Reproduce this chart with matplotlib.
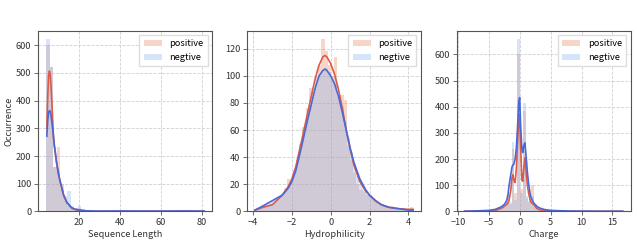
import numpy as np
import matplotlib
matplotlib.use("Agg")
import matplotlib.pyplot as plt
from matplotlib.patches import Patch

plt.rcParams['font.family'] = ['Noto Sans CJK SC', 'DejaVu Sans']
plt.rcParams['font.size'] = 6.6
plt.rcParams['axes.unicode_minus'] = True

# ---- data ----
series_names = ['positive', 'negtive']

# Sequence Length: histogram (bins of ~1.7 from 4 to 81) and density curves
len_edges = np.linspace(4.0, 81.0, 46)
len_pos = [600, 520, 160, 232, 100, 55, 20, 15, 14, 12, 8, 5, 3, 2, 1, 1, 1, 0, 1, 0,
           0, 1, 0, 0, 1, 0, 0, 0, 1, 0, 0, 0, 0, 1, 0, 0, 0, 1, 0, 0, 0, 1, 0, 0, 1]
len_neg = [622, 522, 160, 150, 80, 40, 72, 20, 14, 20, 6, 4, 3, 2, 2, 1, 1, 1, 0, 1,
           1, 0, 1, 0, 0, 1, 0, 1, 0, 0, 0, 1, 0, 0, 1, 0, 0, 0, 1, 0, 0, 1, 0, 0, 1]
len_curve_x = [4.35, 4.8, 5.2, 5.6, 6.0, 6.4, 6.8, 7.2, 7.6, 8.0, 8.4, 9.0, 10.0, 10.9,
               12.5, 14.1, 16.5, 18, 20, 23, 26, 30, 40, 50, 60, 70, 81]
len_curve_pos = [300, 420, 490, 507, 495, 450, 395, 330, 265, 235, 215, 180, 135, 105,
                 58, 31, 12, 7, 4, 2, 1, 0.5, 0.8, 0.8, 0.8, 1.2, 0.8]
len_curve_neg = [272, 330, 358, 364, 362, 345, 320, 295, 270, 240, 218, 182, 137, 107,
                 60, 33, 13, 8, 5, 2.5, 1.5, 1, 1.5, 1, 1, 1.5, 1]

# Hydrophilicity
hyd_edges = np.linspace(-3.9, 4.25, 51)
hyd_pos = [1, 2, 3, 3, 4, 5, 7, 9, 12, 17, 24, 22, 30, 38, 50, 62, 76, 91, 88, 100,
           108, 127, 118, 108, 100, 114, 85, 86, 82, 48, 38, 28, 20, 16, 14, 12, 12, 10, 7, 6,
           4, 3, 3, 4, 2, 2, 1, 1, 2, 3]
hyd_neg = [1, 2, 4, 5, 6, 8, 9, 10, 12, 15, 18, 21, 27, 36, 46, 57, 70, 78, 86, 94,
           100, 104, 106, 103, 98, 94, 86, 78, 66, 54, 44, 35, 26, 20, 16, 13, 11, 9, 7, 5,
           4, 3, 2, 2, 2, 1, 1, 1, 1, 1]
hyd_curve_x = [-3.9, -3.5, -3.0, -2.5, -2.2, -2.0, -1.8, -1.5, -1.2, -1.0, -0.8, -0.6,
               -0.4, -0.3, -0.2, 0.0, 0.2, 0.4, 0.6, 0.8, 1.0, 1.2, 1.5, 1.8, 2.0, 2.3,
               2.6, 3.0, 3.5, 4.0, 4.25]
hyd_curve_pos = [1, 3, 5, 12, 18, 24, 33, 52, 72, 85, 98, 108, 114, 115, 114, 109, 101,
                 90, 76, 60, 46, 34, 22, 15, 12, 8, 5, 3, 2, 1.5, 1.5]
hyd_curve_neg = [1, 4, 8, 12, 17, 22, 30, 48, 67, 79, 91, 100, 104, 105, 104, 100, 94,
                 85, 73, 60, 47, 36, 24, 16, 12, 8, 5, 3, 2, 1, 1]

# Charge
chg_edges = np.linspace(-9.0, 16.65, 58)
chg_pos = [1, 0, 0, 1, 0, 1, 1, 1, 2, 2, 3, 4, 6, 10, 18, 62, 28, 238, 72, 600,
           85, 385, 50, 35, 100, 30, 14, 8, 5, 4, 3, 2, 2, 1, 1, 0, 1, 0, 0, 1,
           0, 0, 1, 0, 0, 0, 1, 0, 0, 0, 0, 1, 0, 0, 0, 0, 1]
chg_neg = [0, 0, 1, 2, 1, 2, 2, 3, 4, 5, 6, 8, 12, 18, 25, 45, 35, 264, 45, 658,
           70, 413, 60, 40, 60, 25, 15, 10, 6, 5, 4, 3, 2, 2, 1, 1, 0, 1, 0, 0,
           1, 0, 0, 0, 1, 0, 0, 0, 0, 0, 0, 0, 0, 0, 0, 0, 0]
chg_curve_x = [-9, -7, -5, -4, -3, -2.5, -2.2, -2.0, -1.8, -1.5, -1.3, -1.15, -1.0, -0.8,
               -0.6, -0.4, -0.2, -0.05, 0.1, 0.3, 0.45, 0.6, 0.8, 1.0, 1.2, 1.4, 1.7,
               2.0, 2.3, 2.7, 3.2, 4, 5, 6, 8, 10, 13, 16.7]
chg_curve_pos = [0.5, 1, 2, 4, 12, 20, 26, 30, 40, 80, 130, 140, 120, 110,
                 160, 260, 350, 370, 250, 120, 115, 160, 205, 150, 100, 70, 38,
                 30, 25, 12, 6, 3, 2, 1, 0.5, 0.5, 0.5, 0.5]
chg_curve_neg = [0.5, 2, 4, 8, 18, 28, 40, 55, 95, 140, 170, 178, 180, 200,
                 240, 320, 420, 435, 330, 240, 225, 250, 262, 210, 150, 105, 60,
                 42, 30, 20, 13, 7, 4, 3, 1.5, 1, 0.5, 0.5]

xlabels = ['Sequence Length', 'Hydrophilicity', 'Charge']

# ---- styles ----
fill_pos = '#e8895f'
fill_neg = '#87b1f2'
line_pos = '#dc5a48'
line_neg = '#4a68d8'
hist_alpha = 0.34

fig = plt.figure(figsize=(6.37, 2.43), dpi=100)
lefts = [0.060, 0.388, 0.717]
axes = [fig.add_axes([l, 0.130, 0.273, 0.744]) for l in lefts]

panels = [
    (len_edges, len_pos, len_neg, len_curve_x, len_curve_pos, len_curve_neg),
    (hyd_edges, hyd_pos, hyd_neg, hyd_curve_x, hyd_curve_pos, hyd_curve_neg),
    (chg_edges, chg_pos, chg_neg, chg_curve_x, chg_curve_pos, chg_curve_neg),
]

for ax, (edges, hp, hn, cx, cp, cn), xl in zip(axes, panels, xlabels):
    ax.stairs(hp, edges, fill=True, color=fill_pos, alpha=hist_alpha, lw=0)
    ax.stairs(hn, edges, fill=True, color=fill_neg, alpha=hist_alpha, lw=0)
    ax.plot(cx, cp, color=line_pos, lw=1.2)
    ax.plot(cx, cn, color=line_neg, lw=1.2)
    ax.set_xlabel(xl, labelpad=2, color='#333333')
    ax.margins(x=0.05, y=0)
    top = max(max(hp), max(hn))
    ax.set_ylim(0, top * 1.05)
    ax.grid(True, ls='--', lw=0.6, color='#d0d0d0')
    ax.set_axisbelow(True)
    for s in ax.spines.values():
        s.set_color('#555555')
        s.set_linewidth(0.8)
    ax.tick_params(length=3, width=0.6, color='#555555', pad=2, labelcolor='#333333')
    handles = [Patch(facecolor=fill_pos, alpha=hist_alpha, lw=0),
               Patch(facecolor=fill_neg, alpha=hist_alpha, lw=0)]
    ax.legend(handles, series_names, loc='upper right', fontsize=6.6,
              handlelength=2.0, borderpad=0.45, labelspacing=0.55,
              framealpha=1, edgecolor='#dddddd', fancybox=False)

axes[0].set_ylabel('Occurrence', labelpad=2, color='#333333')
axes[0].set_xticks([20, 40, 60, 80])
axes[1].set_xticks([-4, -2, 0, 2, 4])
axes[1].set_yticks([0, 20, 40, 60, 80, 100, 120])
axes[2].set_xticks([-10, -5, 0, 5, 10, 15])

fig.savefig('out.png', dpi=100)
